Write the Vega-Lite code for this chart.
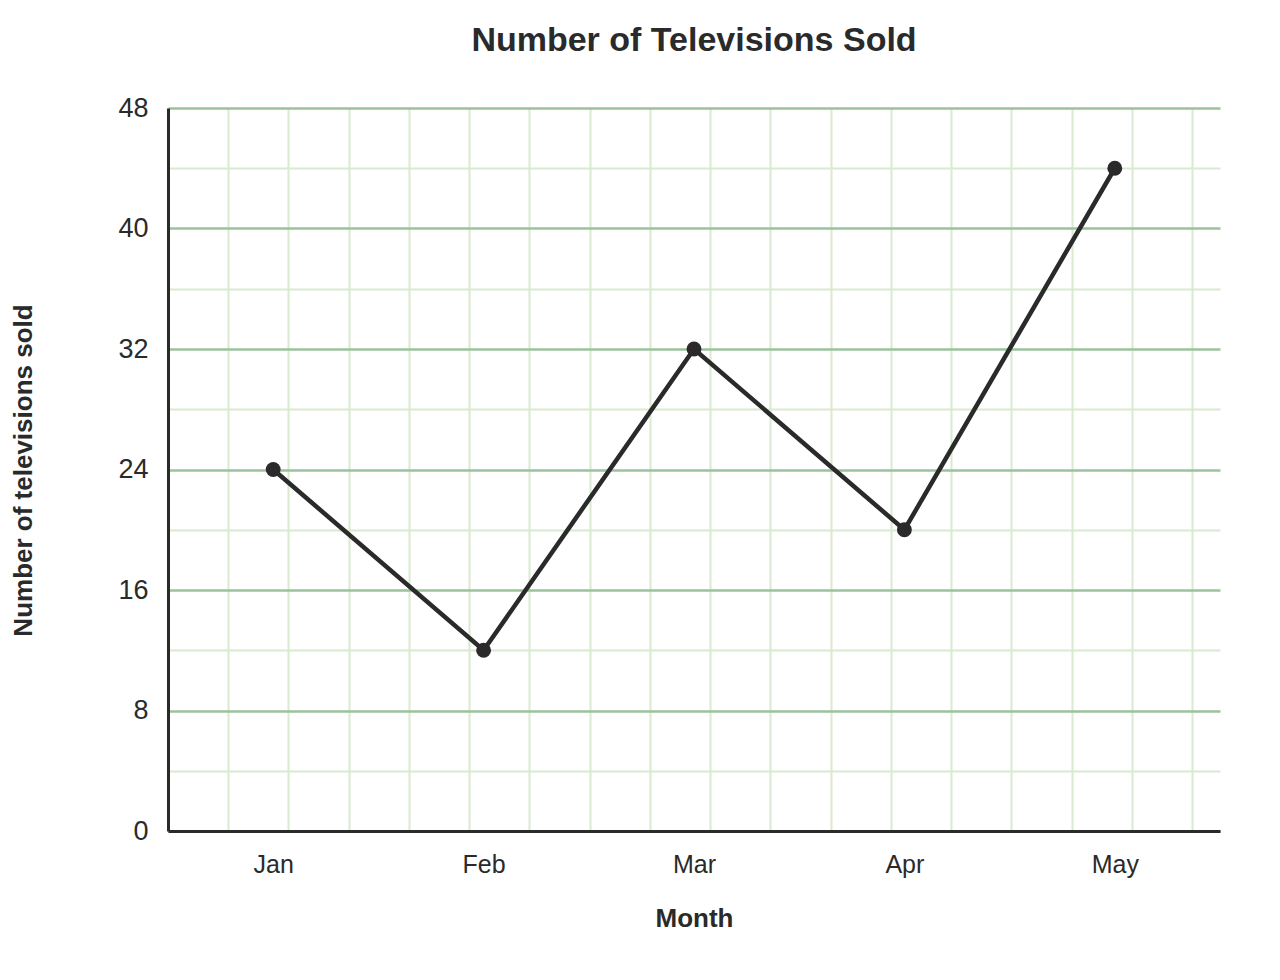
{
  "$schema": "https://vega.github.io/schema/vega-lite/v6.json",
  "width": 1052,
  "height": 723,
  "autosize": "none",
  "padding": {"left": 168, "top": 108, "right": 60, "bottom": 149},
  "background": "white",
  "config": {
    "view": {"stroke": null},
    "font": "Liberation Sans"
  },
  "title": {
    "text": "Number of Televisions Sold",
    "fontSize": 34,
    "fontWeight": "bold",
    "color": "#2a2a2a",
    "anchor": "middle",
    "baseline": "alphabetic",
    "offset": 9
  },
  "data": {
    "values": [
      {"month": "Jan", "sold": 24},
      {"month": "Feb", "sold": 12},
      {"month": "Mar", "sold": 32},
      {"month": "Apr", "sold": 20},
      {"month": "May", "sold": 44}
    ]
  },
  "encoding": {
    "y": {
      "field": "sold",
      "type": "quantitative",
      "scale": {"domain": [0, 48], "nice": false},
      "axis": {
        "values": [0, 4, 8, 12, 16, 20, 24, 28, 32, 36, 40, 44, 48],
        "labelExpr": "datum.value % 8 == 0 ? datum.label : ''",
        "grid": true,
        "gridColor": {"condition": {"test": "datum.value % 8 == 0", "value": "#9cc29c"}, "value": "#d9ead0"},
        "gridWidth": {"condition": {"test": "datum.value % 8 == 0", "value": 2.5}, "value": 2},
        "ticks": false,
        "domain": true,
        "domainColor": "#2a2a2a",
        "domainWidth": 3,
        "labelFontSize": 27,
        "labelColor": "#2a2a2a",
        "labelPadding": 20,
        "title": "Number of televisions sold",
        "titleFontSize": 26,
        "titleFontWeight": "bold",
        "titleColor": "#2a2a2a",
        "titleX": -145,
        "titleY": 362,
        "titleBaseline": "middle"
      }
    }
  },
  "layer": [
    {
      "mark": {"type": "point", "opacity": 0},
      "encoding": {
        "x": {
          "datum": 0,
          "type": "quantitative",
          "scale": {"domain": [0, 17.461], "nice": false, "zero": false},
          "axis": {
            "orient": "top",
            "values": [1, 2, 3, 4, 5, 6, 7, 8, 9, 10, 11, 12, 13, 14, 15, 16, 17],
            "grid": true,
            "gridColor": "#d9ead0",
            "gridWidth": 2,
            "labels": false,
            "ticks": false,
            "domain": false,
            "title": null,
            "minExtent": 0,
            "maxExtent": 0
          }
        }
      }
    },
    {
      "encoding": {
        "x": {
          "field": "month",
          "type": "ordinal",
          "sort": null,
          "scale": {"type": "point", "padding": 0.5},
          "axis": {
            "labelAngle": 0,
            "ticks": false,
            "grid": false,
            "domain": true,
            "domainColor": "#2a2a2a",
            "domainWidth": 3,
            "labelFontSize": 25,
            "labelColor": "#2a2a2a",
            "labelPadding": 21,
            "title": "Month",
            "titleFontSize": 26,
            "titleFontWeight": "bold",
            "titleColor": "#2a2a2a",
            "titleY": 74
          }
        }
      },
      "layer": [
        {"mark": {"type": "line", "color": "#2a2a2a", "strokeWidth": 4.5}},
        {"mark": {"type": "point", "filled": true, "color": "#2a2a2a", "size": 220, "opacity": 1}}
      ]
    }
  ],
  "resolve": {"scale": {"x": "independent"}, "axis": {"x": "independent"}}
}
